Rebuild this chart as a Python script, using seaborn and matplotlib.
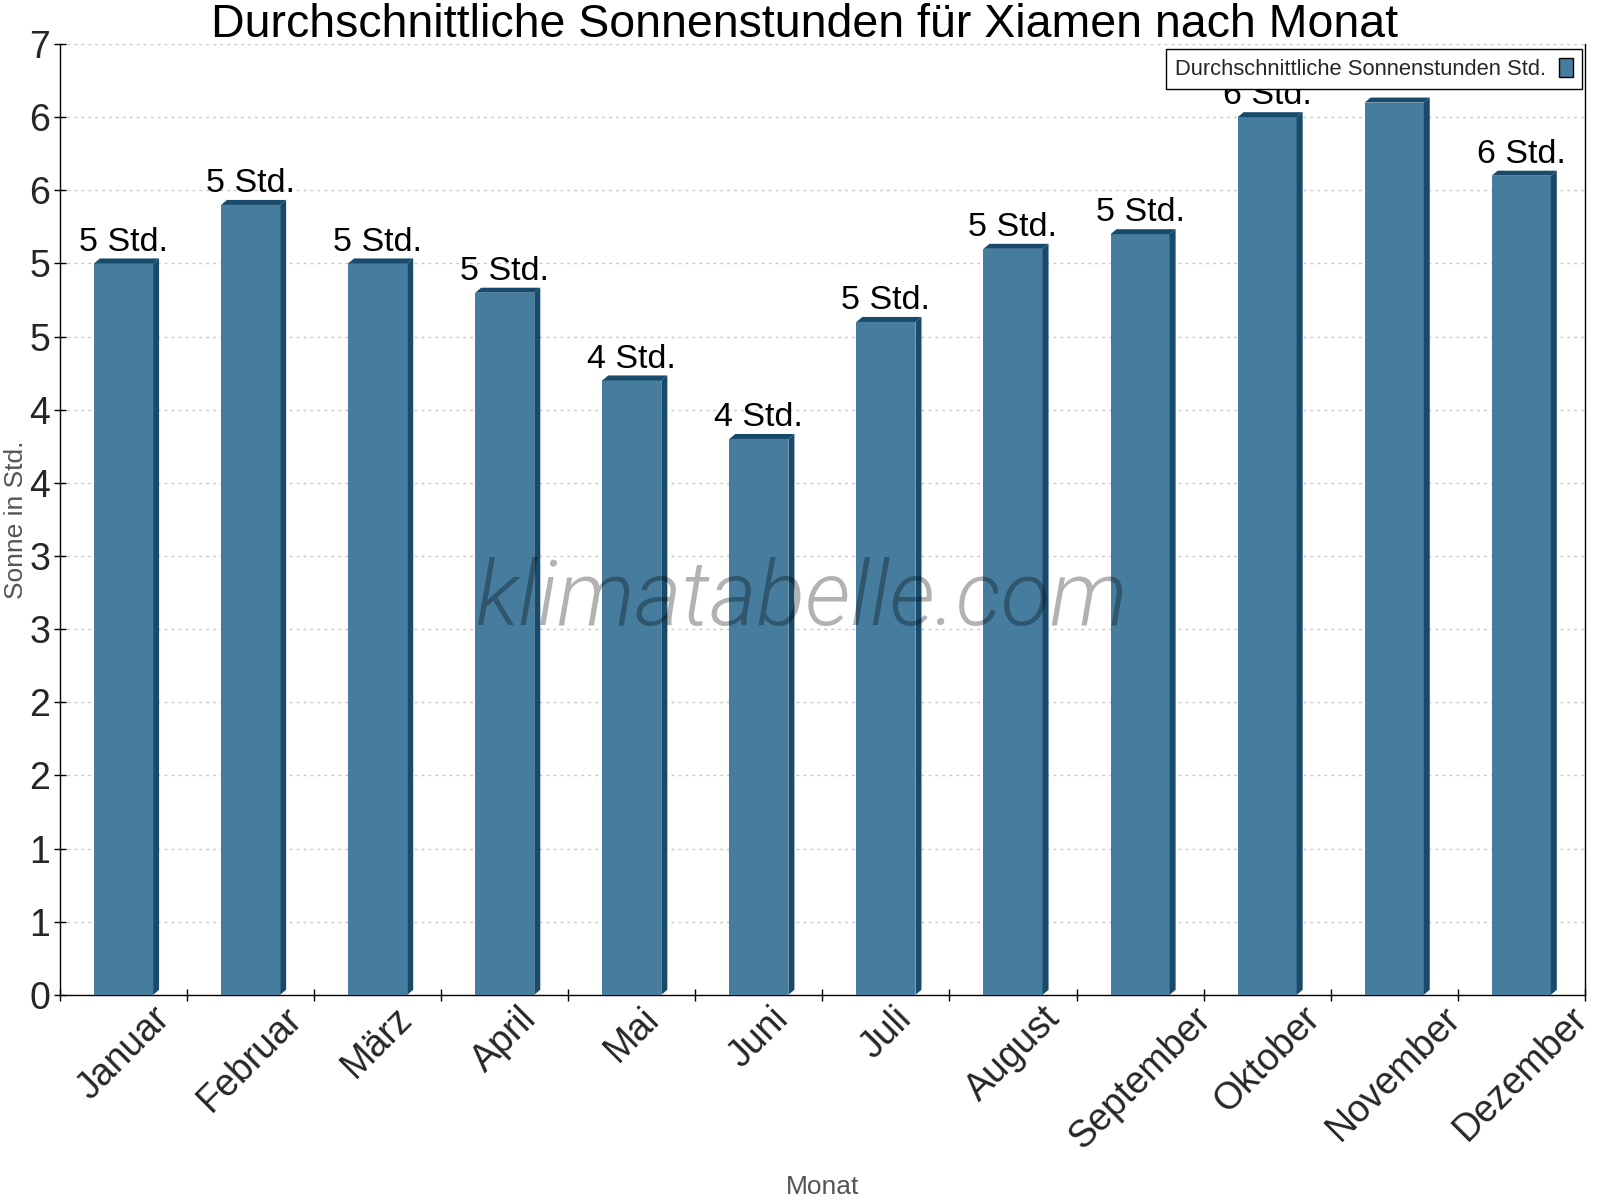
import numpy as np
import pandas as pd
import seaborn as sns
import matplotlib
matplotlib.use("Agg")
import matplotlib.pyplot as plt
from matplotlib.patches import Polygon, Patch
from matplotlib.ticker import FixedLocator, FuncFormatter

# data
months = ["Januar", "Februar", "März", "April", "Mai", "Juni",
          "Juli", "August", "September", "Oktober", "November", "Dezember"]
sun_hours = [5.0, 5.4, 5.0, 4.8, 4.2, 3.8, 4.6, 5.1, 5.2, 6.0, 6.1, 5.6]

title = "Durchschnittliche Sonnenstunden für Xiamen nach Monat"
series_name = "Durchschnittliche Sonnenstunden Std."
x_label = "Monat"
y_label = "Sonne in Std."
watermark = "klimatabelle.com"

FRONT = "#467c9d"
DARK = "#174a6b"

df = pd.DataFrame({"Monat": months, "Sonne": sun_hours})

sns.set_theme(style="white")
plt.rcParams["font.family"] = ["Liberation Sans", "DejaVu Sans"]

fig = plt.figure(figsize=(16, 12), dpi=100)
ax = fig.add_axes([0.0375, 0.171, 0.953, 0.7923])

sns.barplot(data=df, x="Monat", y="Sonne", order=months, color=FRONT,
            width=0.465, saturation=1, edgecolor="none", linewidth=0, ax=ax, zorder=3)

ax.set_xlim(-0.5, len(months) - 0.5)
ax.set_ylim(0, 6.5)

# pseudo-3D depth: a few pixels right and up, converted into data units
px_x = (ax.get_xlim()[1] - ax.get_xlim()[0]) / (ax.get_position().width * fig.get_figwidth() * fig.dpi)
px_y = (ax.get_ylim()[1] - ax.get_ylim()[0]) / (ax.get_position().height * fig.get_figheight() * fig.dpi)
dx, dy = 6 * px_x, 5 * px_y

for bar in ax.patches:
    x0 = bar.get_x()
    x1 = x0 + bar.get_width()
    h = bar.get_height()
    side = Polygon([(x1, 0), (x1 + dx, dy), (x1 + dx, h + dy), (x1, h)],
                   closed=True, facecolor=DARK, edgecolor="none", zorder=3)
    top = Polygon([(x0, h), (x0 + dx, h + dy), (x1 + dx, h + dy), (x1, h)],
                  closed=True, facecolor=DARK, edgecolor="none", zorder=3)
    ax.add_patch(side)
    ax.add_patch(top)
    ax.annotate(f"{int(np.floor(h + 0.5))} Std.", (x0 + bar.get_width() / 2, h + dy),
                xytext=(0, 0.5), textcoords="offset points", ha="center", va="bottom",
                fontsize=24.5, color="black", zorder=4)

# y axis: ticks every 0.5 with rounded labels, as in the original
ax.yaxis.set_major_locator(FixedLocator(np.arange(0, 6.51, 0.5)))
ax.yaxis.set_major_formatter(FuncFormatter(lambda v, p: str(int(np.floor(v + 0.5)))))
ax.tick_params(axis="y", which="major", direction="inout", length=8, width=1,
               color="black", labelsize=27, pad=3, left=True)

# x axis: labels at centres, tick marks at category boundaries
ax.xaxis.set_minor_locator(FixedLocator(np.arange(-0.5, len(months), 1.0)))
ax.tick_params(axis="x", which="major", length=0, labelsize=27, pad=4)
ax.tick_params(axis="x", which="minor", direction="inout", length=8, width=1,
               color="black", bottom=True)
plt.setp(ax.get_xticklabels(), rotation=45, ha="center", va="top")

ax.grid(axis="y", color="#c8c8c8", linestyle=(0, (2, 3)), linewidth=1, zorder=0)
ax.set_axisbelow(True)

for s in ["left", "bottom", "right"]:
    ax.spines[s].set_visible(True)
    ax.spines[s].set_color("black")
    ax.spines[s].set_linewidth(1)
ax.spines["top"].set_visible(False)

ax.set_xlabel(x_label, fontsize=19, color="#555555", labelpad=0)
ax.set_ylabel(y_label, fontsize=19, color="#555555")
ax.xaxis.set_label_coords(0.5, -0.19)
ax.yaxis.set_label_coords(-0.021, 0.5)

fig.text(0.503, 0.969, title, ha="center", va="baseline", fontsize=33.5, color="black")

ax.text(0.487, 0.415, watermark, transform=ax.transAxes, ha="center", va="center",
        fontsize=65, fontstyle="italic", fontweight=300, family=["Roboto", "DejaVu Sans"],
        color="black", alpha=0.3, zorder=5)

leg = ax.legend(handles=[Patch(facecolor=FRONT, edgecolor="black", linewidth=1, label=series_name)],
                loc="upper right", bbox_to_anchor=(0.998, 0.995), markerfirst=False,
                fontsize=15.8, frameon=True, fancybox=False, framealpha=1,
                edgecolor="black", handlelength=0.65, handleheight=1.0, handletextpad=0.6,
                borderpad=0.4, borderaxespad=0)
leg.get_frame().set_linewidth(1)
leg.set_zorder(10)

fig.savefig("out.png", dpi=100)
